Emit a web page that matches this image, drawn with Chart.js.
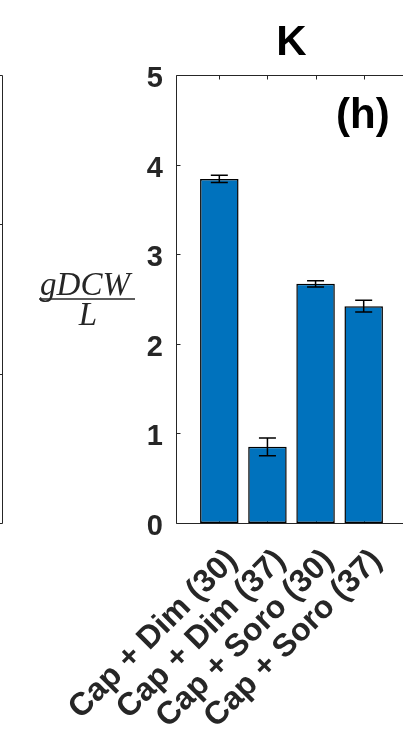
<!DOCTYPE html>
<html>
<head>
<meta charset="utf-8">
<script src="https://cdn.jsdelivr.net/npm/chart.js@4/dist/chart.umd.min.js"></script>
<style>
  html, body { margin: 0; padding: 0; background: #fff; overflow: hidden; width: 403px; height: 733px; }
  canvas { display: block; }
</style>
</head>
<body>
<canvas id="c" width="410" height="733" style="width:410px;height:733px"></canvas>
<script>
// Biomass (gDCW/L) per culture condition, panel K
const categories = ['Cap + Dim (30)', 'Cap + Dim (37)', 'Cap + Soro (30)', 'Cap + Soro (37)'];
const positions = [1, 2, 3, 4];
const biomass = [3.84, 0.85, 2.67, 2.42];
const biomassErr = [0.04, 0.10, 0.035, 0.065];
const yTicks = [0, 1, 2, 3, 4, 5];

const INK = '#262626';
const SANS = '"Liberation Sans", Arial, Helvetica, sans-serif';

// Axes box with inward tick marks (drawn under the bars)
const boxPlugin = {
  id: 'box',
  beforeDatasetsDraw(chart) {
    const { ctx, chartArea: a, scales } = chart;
    ctx.save();
    ctx.strokeStyle = INK;
    ctx.lineWidth = 1;
    const L = Math.round(a.left) + 0.5, R = Math.round(a.right) + 0.5;
    const T = Math.round(a.top) + 0.5, B = Math.round(a.bottom) + 0.5;
    ctx.beginPath();
    ctx.rect(L, T, R - L, B - T);
    const tl = 4;
    yTicks.forEach(v => {
      const y = Math.round(scales.y.getPixelForValue(v)) + 0.5;
      ctx.moveTo(L, y); ctx.lineTo(L + tl, y);
      ctx.moveTo(R, y); ctx.lineTo(R - tl, y);
    });
    positions.forEach(v => {
      const x = Math.round(scales.x.getPixelForValue(v)) + 0.5;
      ctx.moveTo(x, T); ctx.lineTo(x, T + tl);
      ctx.moveTo(x, B); ctx.lineTo(x, B - tl);
    });
    ctx.stroke();
    ctx.restore();
  }
};

// Error bars on top of each bar
const errorPlugin = {
  id: 'errorBars',
  afterDatasetsDraw(chart) {
    const { ctx, scales } = chart;
    const meta = chart.getDatasetMeta(0);
    ctx.save();
    ctx.strokeStyle = '#000';
    ctx.lineWidth = 1.5;
    meta.data.forEach((bar, i) => {
      const yHi = scales.y.getPixelForValue(biomass[i] + biomassErr[i]);
      const yLo = scales.y.getPixelForValue(biomass[i] - biomassErr[i]);
      const x = bar.x, cap = 8.5;
      ctx.beginPath();
      ctx.moveTo(x, yHi); ctx.lineTo(x, yLo);
      ctx.moveTo(x - cap, yHi); ctx.lineTo(x + cap, yHi);
      ctx.moveTo(x - cap, yLo); ctx.lineTo(x + cap, yLo);
      ctx.stroke();
    });
    ctx.restore();
  }
};

// Panel letter, y-axis fraction label and the edge of the neighbouring panel
const decorPlugin = {
  id: 'decor',
  afterDraw(chart) {
    const { ctx, chartArea: a } = chart;
    ctx.save();
    // panel letter
    ctx.fillStyle = '#000';
    ctx.font = 'bold 42px ' + SANS;
    ctx.textAlign = 'left';
    ctx.textBaseline = 'alphabetic';
    ctx.fillText('(h)', 336, a.top + 53);

    // y-axis label: gDCW / L
    const midY = (a.top + a.bottom) / 2;
    const cx = 87;
    ctx.fillStyle = INK;
    ctx.font = 'italic 33px "Liberation Serif", "Times New Roman", serif';
    ctx.textAlign = 'center';
    ctx.fillText('gDCW', cx - 2, midY - 4);
    ctx.fillText('L', cx + 1, midY + 26);
    ctx.strokeStyle = INK;
    ctx.lineWidth = 1.4;
    ctx.beginPath();
    ctx.moveTo(39, midY); ctx.lineTo(135, midY);
    ctx.stroke();

    // right edge of the neighbouring panel's box
    ctx.lineWidth = 1;
    ctx.beginPath();
    const ex = 2.5, T = Math.round(a.top) + 0.5, B = Math.round(a.bottom) + 0.5;
    ctx.moveTo(ex, T); ctx.lineTo(ex, B);
    ctx.moveTo(0, T); ctx.lineTo(ex, T);
    ctx.moveTo(0, B); ctx.lineTo(ex, B);
    for (let k = 1; k < 3; k++) {
      const y = Math.round(a.top + (a.bottom - a.top) * k / 3) + 0.5;
      ctx.moveTo(0, y); ctx.lineTo(ex, y);
    }
    ctx.stroke();
    ctx.restore();
  }
};

new Chart(document.getElementById('c'), {
  type: 'bar',
  data: {
    datasets: [{
      data: positions.map((p, i) => ({ x: p, y: biomass[i] })),
      backgroundColor: '#0072BD',
      borderColor: '#000',
      borderWidth: 1.5,
      borderSkipped: false,
      barPercentage: 1,
      categoryPercentage: 0.8
    }]
  },
  options: {
    responsive: false,
    animation: false,
    devicePixelRatio: 1,
    layout: { padding: { left: 0, right: 3, top: 0, bottom: 0 } },
    plugins: {
      legend: { display: false },
      tooltip: { enabled: false },
      title: {
        display: true,
        text: 'K',
        fullSize: false,
        color: '#000',
        font: { family: SANS, size: 42, weight: 'bold', lineHeight: 1.2 },
        padding: { top: 18, bottom: 6.6 }
      }
    },
    scales: {
      x: {
        type: 'linear',
        offset: false,
        min: 0.1,
        max: 4.9,
        afterBuildTicks(s) { s.ticks = positions.map(v => ({ value: v })); },
        afterFit(s) { s.height = 210; s.paddingLeft = 0; s.paddingRight = 0; },
        grid: { display: false, drawTicks: false, offset: false },
        border: { display: false },
        ticks: {
          autoSkip: false,
          minRotation: 45,
          maxRotation: 45,
          labelOffset: 13,
          padding: 19,
          color: INK,
          font: { family: SANS, size: 32, weight: 'bold' },
          callback: v => categories[positions.indexOf(v)]
        }
      },
      y: {
        min: 0,
        max: 5,
        afterBuildTicks(s) { s.ticks = yTicks.map(v => ({ value: v })); },
        afterFit(s) { s.width = 176; },
        grid: { display: false, drawTicks: false },
        border: { display: false },
        ticks: {
          padding: 13,
          labelOffset: 4,
          color: INK,
          font: { family: SANS, size: 29, weight: 'bold' }
        }
      }
    }
  },
  plugins: [boxPlugin, errorPlugin, decorPlugin]
});
</script>
</body>
</html>
